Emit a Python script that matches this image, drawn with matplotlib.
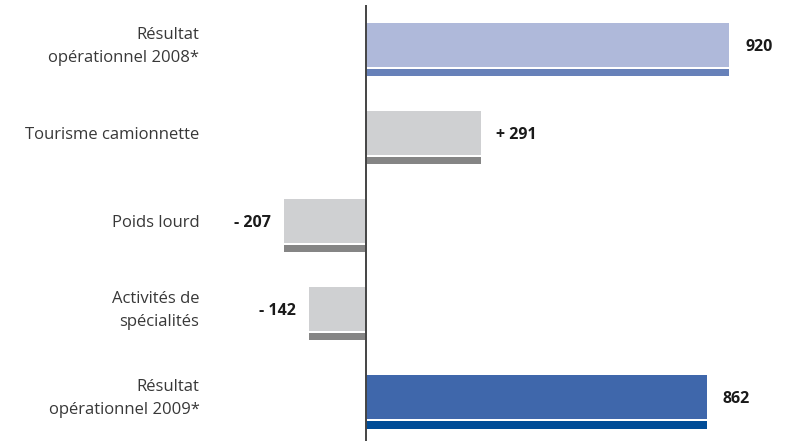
import matplotlib
matplotlib.use('Agg')
import matplotlib.pyplot as plt

categories = ['Résultat\nopérationnel 2008*', 'Tourisme camionnette', 'Poids lourd',
              'Activités de\nspécialités', 'Résultat\nopérationnel 2009*']
values = [920, 291, -207, -142, 862]
labels = ['920', '+ 291', '- 207', '- 142', '862']

main_colors = ['#AFB9DA', '#CFD0D2', '#CFD0D2', '#CFD0D2', '#3F67AB']
strip_colors = ['#6781B9', '#858585', '#858585', '#858585', '#004C97']

plt.rcParams['font.family'] = ['Open Sans', 'DejaVu Sans']

fig = plt.figure(figsize=(7.92, 4.41), dpi=100)
ax = fig.add_axes([0, 0, 1, 1])
ax.set_xlim(-924, 1078)
ax.set_ylim(4.5, -0.511)
ax.axis('off')

ypos = list(range(len(values)))
ax.barh(ypos, values, height=0.5, color=main_colors, linewidth=0)
ax.barh([y + 0.318 for y in ypos], values, height=0.08, color=strip_colors, linewidth=0)
ax.vlines(0, -0.455, 4.5, color='#444444', linewidth=1.4)

for y, v, lab, cat in zip(ypos, values, labels, categories):
    ax.text(-420, y + 0.02, cat, ha='right', va='center', fontsize=12,
            color='#383838', linespacing=1.55)
    if v >= 0:
        ax.text(v + 40, y + 0.02, lab, ha='left', va='center', fontsize=11.5,
                fontweight='bold', color='#1a1a1a')
    else:
        ax.text(v - 33, y + 0.02, lab, ha='right', va='center', fontsize=11.5,
                fontweight='bold', color='#1a1a1a')

fig.savefig('out.png', dpi=100)
